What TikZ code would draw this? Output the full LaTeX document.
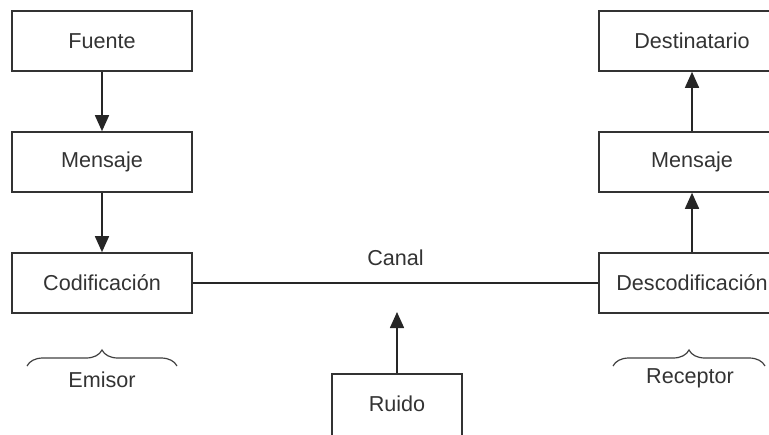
\documentclass[tikz,border=0pt]{standalone}
\usepackage{fontspec}
\setmainfont{Liberation Sans}
\usetikzlibrary{positioning,arrows.meta,decorations.pathreplacing}

\begin{document}
\begin{tikzpicture}[x=0.5pt, y=-0.5pt, node distance={60.5pt}, line width=0.8pt,
		caja/.style = {draw=black!80, minimum width=90pt, minimum height=30pt, inner sep=2pt, text=black!80, font=\fontsize{10.8}{13}\selectfont},
		flecha/.style = {draw=black!85, -{Triangle[length=8pt, width=7pt]}},
		llave/.style = {draw=black!75, line width=0.6pt, decorate, decoration={brace, amplitude=8pt}},
		rotulo/.style = {text=black!80, font=\fontsize{10.8}{13}\selectfont}]
		\useasboundingbox (0,0) rectangle (769,434);
		\clip (0,0) rectangle (769,434);
		% emisor
		\node[caja] (codif) at (102,283) {Codificación};
		\node[caja] (mensajeE) [above of=codif] {Mensaje};
		\node[caja] (fuente) [above of=mensajeE] {Fuente};
		% receptor
		\node[caja, minimum width=93pt] (descodif) at (692,283) {Descodificación};
		\node[caja, minimum width=93pt] (mensajeR) [above of=descodif] {Mensaje};
		\node[caja, minimum width=93pt] (destino) [above of=mensajeR] {Destinatario};
		% ruido
		\node[caja, minimum width=65pt, minimum height=36pt, text depth=6pt] (ruido) at (397,410) {Ruido};
		\coordinate (canalR) at (397,312);
		\draw[flecha] (fuente) -- (mensajeE);
		\draw[flecha] (mensajeE) -- (codif);
		\draw[flecha] (descodif) -- (mensajeR);
		\draw[flecha] (mensajeR) -- (destino);
		\draw[draw=black!85] (codif) -- node[rotulo, midway, above=5pt] (canal) {Canal} (descodif);
		\draw[flecha] (ruido) -- (canalR);
		% llaves
		\coordinate (emisorA) at (27,366);
		\coordinate (emisorB) at (177,366);
		\coordinate (receptorA) at (613,366);
		\coordinate (receptorB) at (765,366);
		\draw[llave] (emisorA) -- (emisorB);
		\draw[llave] (receptorA) -- (receptorB);
		\node[rotulo] (emisor) at (102,380) {Emisor};
		\node[rotulo] (receptor) at (690,378) {Receptor};
	\end{tikzpicture}
\end{document}
